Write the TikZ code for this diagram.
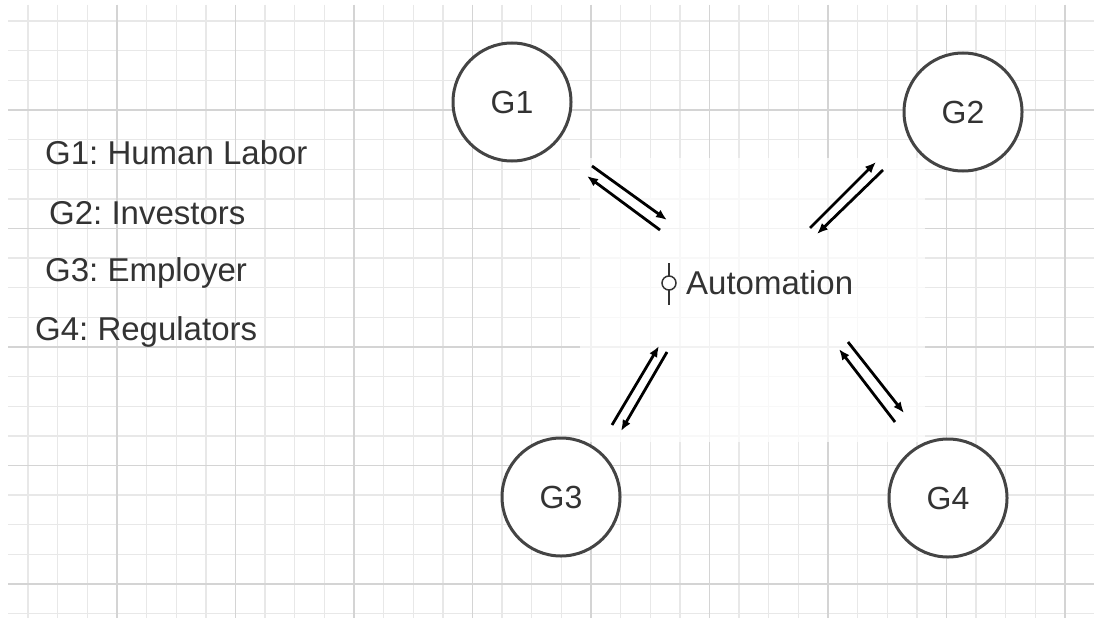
\documentclass[tikz,border=0pt]{standalone}
\usepackage{fontspec}
\setmainfont{Liberation Sans}
\usetikzlibrary{arrows.meta}
\frenchspacing
\definecolor{txt}{HTML}{333333}
\definecolor{ring}{HTML}{444444}
\definecolor{gminor}{HTML}{E8E8E8}
\definecolor{gmajor}{HTML}{D4D4D4}
\tikzset{
  minorline/.style={draw=gminor, line width=1.3pt},
  majorline/.style={draw=gmajor, line width=1.5pt},
  group/.style={circle, draw=ring, line width=3pt, fill=white, minimum size=118pt, inner sep=0pt, text=txt, font=\fontsize{32}{38}\selectfont},
  legend/.style={anchor=west, inner sep=1pt, text=txt, font=\fontsize{33}{40}\selectfont},
  arr/.style={-{Latex[length=11pt,width=9pt]}, line width=2.8pt, black},
  veil/.style={fill=white, fill opacity=0.7, draw=none}
}
\begin{document}
\begin{tikzpicture}[x=1pt,y=-1pt]
\useasboundingbox (0,0) rectangle (1094,618);
\fill[white] (0,0) rectangle (1094,618);
% grid
\foreach \i in {0,...,36}{
  \pgfmathsetmacro\xx{28.125+29.625*\i}
  \draw[minorline] (\xx,5) -- (\xx,618);
}
\foreach \i in {0,...,20}{
  \pgfmathsetmacro\yy{21.125+29.625*\i}
  \draw[minorline] (8,\yy) -- (1094,\yy);
}
\foreach \i in {0,...,8}{
  \pgfmathsetmacro\xx{117+118.5*\i}
  \draw[majorline] (\xx,5) -- (\xx,618);
}
\foreach \i in {0,...,4}{
  \pgfmathsetmacro\yy{110+118.5*\i}
  \draw[majorline] (8,\yy) -- (1094,\yy);
}
% veils
\fill[veil] (580,158) rectangle (925,442);
% legend
\node[legend] (l1) at (44,153) {G1: Human Labor};
\node[legend] (l2) at (48,213) {G2: Investors};
\node[legend] (l3) at (44,273) {G3: Employer};
\node[legend] (l4) at (34,332) {G4: Regulators};
% groups
\node[group] (g1) at (512,102) {G1};
\node[group] (g2) at (963,112) {G2};
\node[group] (g3) at (561,497) {G3};
\node[group] (g4) at (948,498) {G4};
% automation
\node[legend] (auto) at (685,283) {Automation};
\coordinate (pt) at (669,283);
\draw[black!80, line width=1.5pt] (669,263) -- (669,276) (669,290) -- (669,305);
\draw[black!80, line width=1.5pt] (pt) circle (7pt);
% arrow end points
\coordinate (a1s) at (592,166); \coordinate (a1e) at (667,220);
\coordinate (b1s) at (660,230); \coordinate (b1e) at (587,176);
\coordinate (a2s) at (810,228); \coordinate (a2e) at (876,162);
\coordinate (b2s) at (883,170); \coordinate (b2e) at (817,234);
\coordinate (a3s) at (612,425); \coordinate (a3e) at (659,346);
\coordinate (b3s) at (667,352); \coordinate (b3e) at (621,431);
\coordinate (a4s) at (895,422); \coordinate (a4e) at (839,349);
\coordinate (b4s) at (848,342); \coordinate (b4e) at (904,413);
\draw[arr] (a1s) -- (a1e);
\draw[arr] (b1s) -- (b1e);
\draw[arr] (a2s) -- (a2e);
\draw[arr] (b2s) -- (b2e);
\draw[arr] (a3s) -- (a3e);
\draw[arr] (b3s) -- (b3e);
\draw[arr] (a4s) -- (a4e);
\draw[arr] (b4s) -- (b4e);
\end{tikzpicture}
\end{document}
